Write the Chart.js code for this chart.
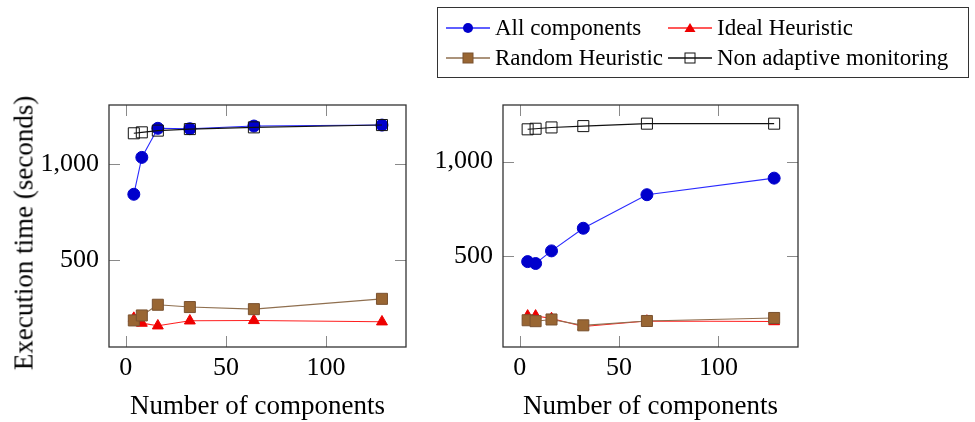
<!DOCTYPE html>
<html>
<head>
<meta charset="utf-8">
<script src="https://cdn.jsdelivr.net/npm/chart.js@4.4.1/dist/chart.umd.min.js"></script>
<style>
  body { margin: 0; background: #fff; }
  #wrap { position: relative; width: 975px; height: 422px; overflow: hidden; font-family: "Liberation Serif", "DejaVu Serif", serif; }
  canvas { position: absolute; top: 0; }
  #legend { position: absolute; left: 437px; top: 7px; width: 532px; height: 71px; border: 1.3px solid #333; box-sizing: border-box; }
  .item { position: absolute; display: flex; align-items: center; font-size: 23px; color: #000; white-space: nowrap; height: 28px; }
  .item svg { margin-right: 5px; }
  #ytitle { position: absolute; left: 24px; top: 233px; transform: translate(-50%, -50%) rotate(-90deg); font-size: 27px; white-space: nowrap; color: #000; }
</style>
</head>
<body>
<div id="wrap">
  <canvas id="left" width="420" height="422" style="left:0"></canvas>
  <canvas id="right" width="420" height="422" style="left:420px"></canvas>
  <div id="ytitle">Execution time (seconds)</div>
  <div id="legend"></div>
</div>
<script>
// x values (number of components)
const components = [4, 8, 16, 32, 64, 128];

// left plot
const allLeft = [843, 1036, 1188, 1186, 1200, 1205];
const idealLeft = [195, 169, 155, 181, 183, 176];
const randomLeft = [183, 209, 265, 253, 242, 296];
const nonAdaptiveLeft = [1162, 1167, 1176, 1184, 1193, 1205];

// right plot
const allRight = [469, 459, 526, 646, 824, 912];
const idealRight = [181, 181, 167, 125, 154, 151];
const randomRight = [158, 153, 162, 131, 154, 170];
const nonAdaptiveRight = [1171, 1174, 1181, 1188, 1201, 1201];

const xTicks = [0, 50, 100];
const yTicks = [500, 1000];

const seriesNames = ["All components", "Ideal Heuristic", "Random Heuristic", "Non adaptive monitoring"];

const FONT = '"Liberation Serif", "DejaVu Serif", serif';

const styles = [
  { line: "#2a2aff", fill: "#0000cc", edge: "#0000cc", shape: "circle", r: 6, order: 4 },
  { line: "#ff2020", fill: "#ee0000", edge: "#ee0000", shape: "triangle", r: 6.3, order: 3 },
  { line: "#8f6f4f", fill: "#996633", edge: "#7a5230", shape: "rect", r: 7.8, order: 2 },
  { line: "#111111", fill: "rgba(0,0,0,0)", edge: "#111111", shape: "rect", r: 7.8, order: 1 }
];

function toPoints(ys) {
  return components.map((c, i) => ({ x: c, y: ys[i] }));
}

// ticks pointing inwards on all four sides + frame, like pgfplots
const frameTicks = {
  id: "frameTicks",
  beforeDatasetsDraw(chart) {
    const { ctx, chartArea: a, scales: { x, y } } = chart;
    ctx.save();
    ctx.strokeStyle = "#8a8a8a";
    ctx.lineWidth = 1;
    ctx.beginPath();
    xTicks.forEach(v => {
      const px = Math.round(x.getPixelForValue(v)) + 0.5;
      ctx.moveTo(px, a.bottom); ctx.lineTo(px, a.bottom - 11);
      ctx.moveTo(px, a.top); ctx.lineTo(px, a.top + 11);
    });
    yTicks.forEach(v => {
      const py = Math.round(y.getPixelForValue(v)) + 0.5;
      ctx.moveTo(a.left, py); ctx.lineTo(a.left + 11, py);
      ctx.moveTo(a.right, py); ctx.lineTo(a.right - 11, py);
    });
    ctx.stroke();
    ctx.restore();
  },
  afterDatasetsDraw(chart) {
    const { ctx, chartArea: a } = chart;
    ctx.save();
    ctx.strokeStyle = "#333";
    ctx.lineWidth = 1.3;
    ctx.strokeRect(a.left, a.top, a.right - a.left, a.bottom - a.top);
    ctx.restore();
  }
};

function makeChart(id, data, opts) {
  const datasets = data.map((ys, i) => {
    const s = styles[i];
    return {
      label: seriesNames[i],
      data: toPoints(ys),
      borderColor: s.line,
      borderWidth: 1.1,
      pointStyle: s.shape,
      pointRadius: s.r,
      pointHoverRadius: s.r,
      pointBackgroundColor: s.fill,
      pointBorderColor: s.edge,
      pointBorderWidth: 1,
      order: s.order,
      tension: 0,
      clip: 10
    };
  });

  return new Chart(document.getElementById(id), {
    type: "line",
    data: { datasets },
    options: {
      responsive: false,
      animation: false,
      layout: { padding: { left: 0, right: opts.padRight, top: 105, bottom: 0 } },
      plugins: { legend: { display: false }, tooltip: { enabled: false } },
      scales: {
        x: {
          type: "linear",
          min: -8.4,
          max: 140,
          afterBuildTicks: s => { s.ticks = xTicks.map(v => ({ value: v })); },
          afterFit: s => { s.height = 75; },
          grid: { display: false },
          border: { display: false },
          ticks: { color: "#000", font: { family: FONT, size: 26 }, padding: -2, maxRotation: 0, autoSkip: false },
          title: { display: true, text: "Number of components", color: "#000", font: { family: FONT, size: 27 }, padding: { top: 0, bottom: -1 } }
        },
        y: {
          type: "linear",
          min: opts.yMin,
          max: opts.yMax,
          afterBuildTicks: s => { s.ticks = yTicks.map(v => ({ value: v })); },
          afterFit: s => { s.width = opts.yWidth; },
          grid: { display: false },
          border: { display: false },
          ticks: { color: "#000", font: { family: FONT, size: 26 }, padding: 2 }
        }
      }
    },
    plugins: [frameTicks]
  });
}

makeChart("left", [allLeft, idealLeft, randomLeft, nonAdaptiveLeft],
  { yMin: 44, yMax: 1310, yWidth: 109, padRight: 14 });
makeChart("right", [allRight, idealRight, randomRight, nonAdaptiveRight],
  { yMin: 16, yMax: 1300, yWidth: 83, padRight: 42 });

// legend, two rows and two columns
function markerSvg(i) {
  const s = styles[i];
  let m = "";
  if (s.shape === "circle") m = `<circle cx="22" cy="8" r="5" fill="${s.fill}"/>`;
  if (s.shape === "triangle") m = `<polygon points="22,3 27.5,12 16.5,12" fill="${s.fill}"/>`;
  if (s.shape === "rect") m = `<rect x="17" y="3" width="10" height="10" fill="${s.fill}" stroke="${s.edge}" stroke-width="1"/>`;
  return `<svg width="44" height="16"><line x1="0" y1="8" x2="44" y2="8" stroke="${s.line}" stroke-width="1.3"/>${m}</svg>`;
}
const legendPos = [[8, 6], [230, 6], [8, 36], [230, 36]];
const legend = document.getElementById("legend");
seriesNames.forEach((name, i) => {
  const d = document.createElement("div");
  d.className = "item";
  d.style.left = legendPos[i][0] + "px";
  d.style.top = legendPos[i][1] + "px";
  d.innerHTML = markerSvg(i) + "<span>" + name + "</span>";
  legend.appendChild(d);
});
</script>
</body>
</html>
